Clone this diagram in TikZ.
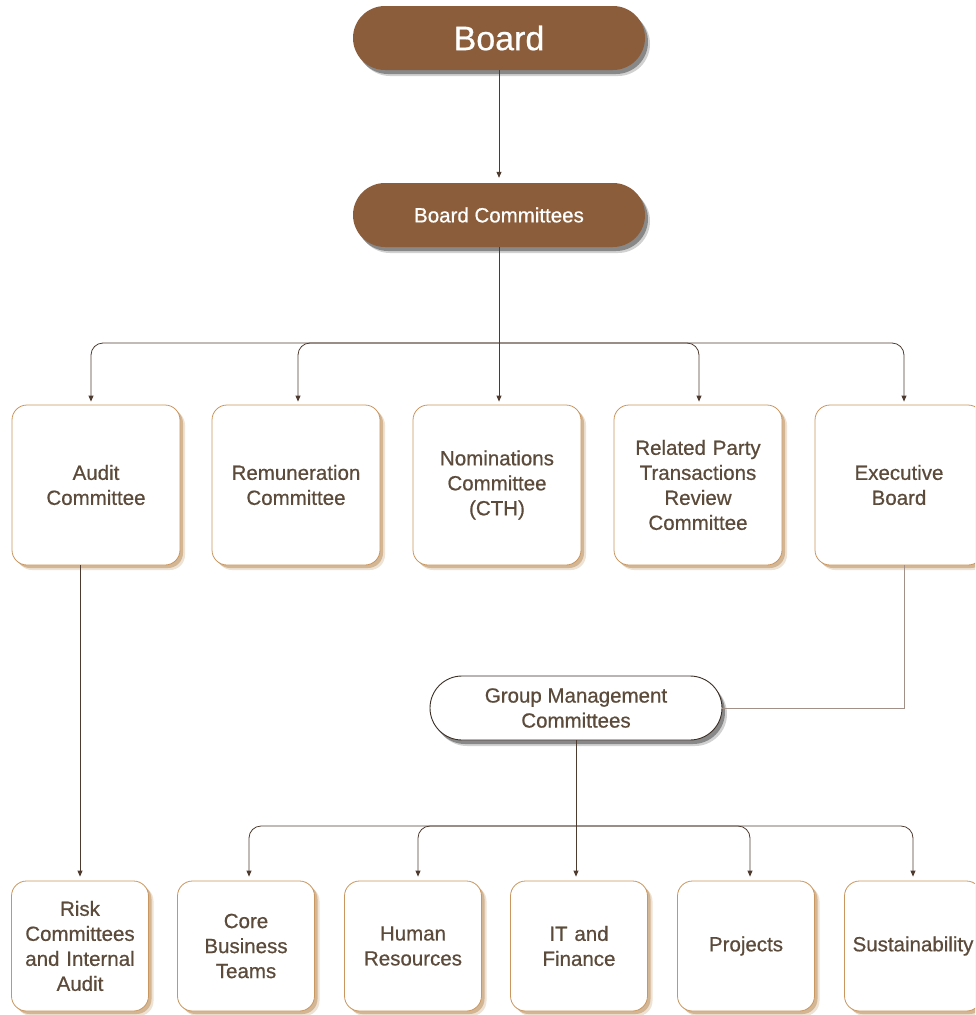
\documentclass[tikz,border=0pt]{standalone}
\usepackage{fontspec}
\setmainfont{Liberation Sans}[FakeBold=0.6]
\usetikzlibrary{shapes.misc,shadows,arrows.meta,calc}
\definecolor{brownfill}{HTML}{8B5D3B}
\definecolor{tanline}{HTML}{C9965F}
\definecolor{tanshadow}{HTML}{B98A55}
\definecolor{txt}{HTML}{5C4B3B}
\definecolor{conn}{HTML}{4E3B30}
\definecolor{connlight}{HTML}{A09088}
\definecolor{pillline}{HTML}{3A2D24}
\begin{document}
\begin{tikzpicture}[x=1pt,y=-1pt,
  pill/.style={rounded rectangle, minimum width=292pt, minimum height=64pt, inner sep=0pt, align=center},
  darkshadow/.style={drop shadow={shadow xshift=5pt, shadow yshift=-6pt, fill=black, opacity=0.18},
                     drop shadow={shadow xshift=3pt, shadow yshift=-4pt, fill=black, opacity=0.35}},
  toppill/.style={pill, fill=brownfill, text=white, darkshadow},
  whitepill/.style={pill, fill=white, draw=pillline, line width=0.9pt, text=txt, darkshadow},
  tanshadows/.style={drop shadow={shadow xshift=5pt, shadow yshift=-5pt, fill=tanshadow, opacity=0.25},
                     drop shadow={shadow xshift=3pt, shadow yshift=-3pt, fill=tanshadow, opacity=0.5}},
  boxbase/.style={draw=tanline, line width=0.8pt, fill=white, rounded corners=15pt, align=center, text=txt, inner sep=0pt, tanshadows},
  bigbox/.style={boxbase, minimum width=168pt, minimum height=160pt, text width=160pt},
  smallbox/.style={boxbase, minimum width=137pt, minimum height=130pt, text width=132pt},
  boxfont/.style={font=\fontsize{20.5}{25}\selectfont},
  arr/.style={draw=conn, line width=0.8pt, -{Triangle[length=6pt,width=5pt]}, shorten >=3pt},
  link/.style={draw=conn, line width=0.8pt},
  lightlink/.style={draw=connlight, line width=0.9pt}
]
\path[use as bounding box] (0,0) rectangle (975,1015);
\clip (0,0) rectangle (975,1015);

% top pills
\node[toppill, font=\fontsize{34}{40}\selectfont] (board) at (499,38) {Board};
\node[toppill, font=\fontsize{20.5}{25}\selectfont] (bc) at (499,215) {Board Committees};

% row 1
\node[bigbox, boxfont] (audit) at (96,485) {Audit\\Committee};
\node[bigbox, boxfont] (rem) at (296,485) {Remuneration\\Committee};
\node[bigbox, boxfont] (nom) at (497,485) {Nominations\\Committee\\(CTH)};
\node[bigbox, boxfont] (rpt) at (698,485) {Related Party\\Transactions\\Review\\Committee};
\node[bigbox, boxfont] (exec) at (899,485) {Executive\\Board};

% middle pill
\node[whitepill, boxfont] (gmc) at (576,708) {Group Management\\Committees};

% row 3
\node[smallbox, boxfont] (risk) at (80,946) {Risk\\Committees\\and Internal\\Audit};
\node[smallbox, boxfont] (core) at (246,946) {Core\\Business\\Teams};
\node[smallbox, boxfont] (hr) at (413,946) {Human\\Resources};
\node[smallbox, boxfont] (itf) at (579,946) {IT and\\Finance};
\node[smallbox, boxfont] (proj) at (746,946) {Projects};
\node[smallbox, boxfont] (sust) at (913,946) {Sustainability};

% connectors
\draw[arr, shorten >=5pt] (board.south) -- (bc.north);
\coordinate (bus1) at (499,343);
\draw[arr] (bc.south) -- (bc.south |- nom.north);
\draw[arr, rounded corners=12pt] (bus1) -| ($(audit.north)+(-5,0)$);
\draw[arr, rounded corners=12pt] (bus1) -| ($(rem.north)+(2,0)$);
\draw[arr, rounded corners=12pt] (bus1) -| ($(rpt.north)+(1,0)$);
\draw[arr, rounded corners=12pt] (bus1) -| ($(exec.north)+(5,0)$);

\draw[arr, shorten >=4pt] (audit.south -| risk.north) -- (risk.north);
\draw[lightlink] ($(exec.south)+(5,0)$) |- (gmc.east);

\coordinate (bus2) at (576,826);
\draw[arr, shorten >=4pt] (gmc.south) -- (gmc.south |- itf.north);
\draw[arr, shorten >=4pt, rounded corners=12pt] (bus2) -| ($(core.north)+(3,0)$);
\draw[arr, shorten >=4pt, rounded corners=12pt] (bus2) -| ($(hr.north)+(5,0)$);
\draw[arr, shorten >=4pt, rounded corners=12pt] (bus2) -| ($(proj.north)+(4,0)$);
\draw[arr, shorten >=4pt, rounded corners=12pt] (bus2) -| (sust.north);
\end{tikzpicture}
\end{document}
